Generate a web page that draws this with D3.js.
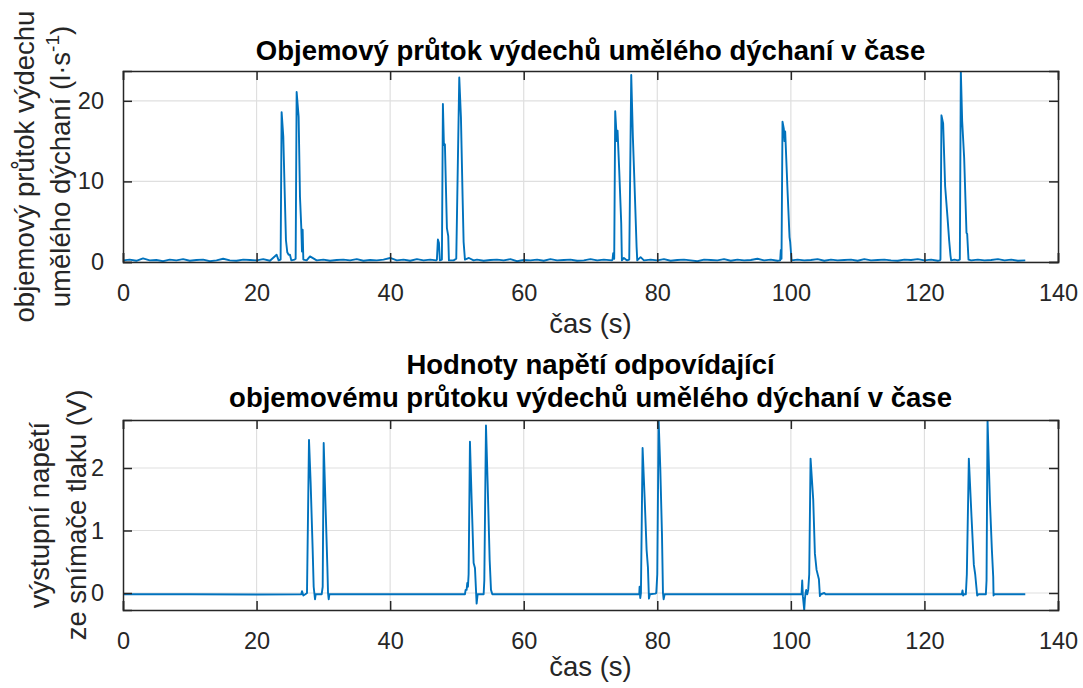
<!DOCTYPE html>
<html>
<head>
<meta charset="utf-8">
<script src="https://cdn.jsdelivr.net/npm/d3@7"></script>
<style>
  html, body { margin: 0; padding: 0; background: #fff; }
  svg { display: block; font-family: "Liberation Sans", Arial, Helvetica, sans-serif; }
</style>
</head>
<body>
<svg id="chart" width="1083" height="688"></svg>
<script>
// ---------------- DATA ----------------
const xTicks = [0, 20, 40, 60, 80, 100, 120, 140];
const flowTicks = [0, 10, 20];
const voltTicks = [0, 1, 2];

const flowTitle = "Objemový průtok výdechů umělého dýchaní v čase";
const voltTitle = ["Hodnoty napětí odpovídající", "objemovému průtoku výdechů umělého dýchaní v čase"];
const flowYLabel = ["objemový průtok výdechu", "umělého dýchaní (l·s"];
const voltYLabel = ["výstupní napětí", "ze snímače tlaku (V)"];
const xLabel = "čas (s)";

// flow (l/s) vs time (s)
const flowTime = [
  0,1,2,3,4,5,6,7,8,9,10,11,12,13,14,15,16,17,18,19,20,21,22,23,23.3,
  23.6,23.75,24.0,24.2,24.4,24.6,24.8,25.0,25.2,25.7,25.85,26.0,26.3,26.5,26.7,26.8,26.9,27.0,27.5,28.0,
  29,30,31,32,33,34,35,36,37,38,39,40,41,42,43,44,45,46,46.9,
  47.0,47.15,47.3,47.45,47.75,47.9,48.05,48.2,48.5,48.7,48.8,49.5,49.9,50.35,50.6,50.85,51.0,51.2,51.8,52.5,
  53,54,55,56,57,58,59,60,61,62,63,64,65,66,67,68,69,70,71,72,73.2,
  73.3,73.4,73.55,73.7,73.95,74.05,74.3,74.6,74.7,75.0,75.3,75.5,75.8,76.1,76.35,76.6,76.9,77.0,77.5,78.0,
  79,80,81,82,83,84,85,86,87,88,89,90,91,92,93,94,95,96,97,98,98.4,
  98.5,98.6,98.75,98.95,99.05,99.15,99.5,99.8,99.9,100.1,
  101,102,103,104,105,106,107,108,109,110,111,112,113,114,115,116,117,118,119,120,121,122,122.3,
  122.4,122.55,122.8,123.1,123.45,123.7,123.9,124.0,124.5,125.0,125.3,125.45,125.65,125.95,126.3,126.4,126.6,127.0,
  128,129,130,131,132,133,134,135.1
];
const flowValue = [
  0.2,0.3,0.15,0.45,0.2,0.25,0.1,0.3,0.2,0.35,0.15,0.25,0.3,0.1,0.2,0.4,0.2,0.15,0.3,0.25,0.2,0.35,0.15,0.9,0.2,
  0.3,18.6,15.6,9.0,2.7,1.2,0.9,0.9,0.2,0.3,0.4,21.1,18.0,8.1,4.2,1.3,4.0,0.3,0.2,0.7,
  0.2,0.3,0.15,0.25,0.3,0.2,0.35,0.15,0.25,0.2,0.3,0.5,0.2,0.3,0.15,0.35,0.2,0.3,0.2,
  0.3,2.8,2.4,0.2,0.3,19.6,14.5,14.6,4.2,3.2,0.2,0.2,0.4,22.9,18.0,8.0,2.5,0.3,0.5,0.2,
  0.3,0.15,0.25,0.3,0.2,0.35,0.1,0.25,0.2,0.3,0.15,0.35,0.2,0.25,0.3,0.15,0.2,0.35,0.2,0.3,0.2,
  0.3,1.1,0.4,18.7,15.0,16.3,11.4,4.8,0.2,0.5,0.3,0.2,0.3,23.2,15.4,9.4,1.9,0.2,0.6,0.2,
  0.3,0.2,0.35,0.15,0.25,0.3,0.2,0.1,0.3,0.25,0.2,0.35,0.15,0.3,0.2,0.25,0.4,0.2,0.3,0.15,0.2,
  1.5,0.4,17.4,16.5,15.0,16.2,8.9,3.1,2.5,0.2,
  0.3,0.2,0.25,0.35,0.15,0.3,0.2,0.25,0.3,0.15,0.35,0.2,0.25,0.3,0.2,0.15,0.3,0.25,0.35,0.2,0.3,0.15,0.2,
  0.3,18.2,17.2,9.4,5.6,2.7,0.8,0.2,0.3,0.2,0.3,23.7,17.5,12.9,3.6,3.5,0.3,0.2,
  0.3,0.2,0.25,0.35,0.2,0.3,0.15,0.2
];

// voltage (V) vs time (s)
const voltTime = [
  0,10,20,26.7,26.8,27.0,27.3,27.55,27.85,28.1,28.4,28.55,28.75,28.85,29.75,29.9,30.05,30.3,30.6,30.7,30.8,30.9,
  40,51.2,51.3,51.45,51.55,51.65,51.75,51.95,52.2,52.5,52.7,52.95,53.1,54.0,54.1,54.35,54.6,54.9,55.1,55.3,
  77.3,77.35,77.45,77.55,77.8,78.1,78.4,78.6,78.75,78.9,79.7,79.85,80.0,80.2,80.45,80.7,80.85,80.95,81.1,
  101.6,101.7,101.8,102.0,102.1,102.2,102.3,102.45,102.6,102.75,102.95,103.35,103.6,103.85,104.2,104.35,104.5,105.0,105.2,
  125.6,125.7,125.8,125.9,126.2,126.35,126.65,127.05,127.4,127.6,127.9,128.1,129.2,129.3,129.45,129.8,130.1,130.3,130.35,130.5,135.1
];
const voltValue = [
  -0.02,-0.02,-0.025,-0.02,0.03,-0.04,-0.02,0.0,2.45,1.75,0.69,0.1,-0.1,-0.02,-0.02,0.1,2.4,1.49,0.42,0.0,-0.1,-0.02,
  -0.02,-0.02,0.05,0.05,0.16,0.1,0.3,2.42,1.5,0.48,0.4,-0.17,-0.02,-0.02,0.2,2.68,1.75,0.53,0.05,-0.02,
  -0.02,0.1,-0.08,0.0,2.32,1.54,0.69,0.41,-0.09,-0.02,-0.01,0.0,0.3,2.77,2.0,0.95,0.0,-0.1,-0.02,
  -0.02,0.2,-0.05,-0.27,-0.1,0.0,0.05,-0.02,0.05,0.3,2.15,1.49,0.63,0.37,0.22,-0.05,-0.02,0.0,-0.02,
  -0.02,0.04,-0.04,-0.02,-0.02,0.3,2.15,1.22,0.45,0.3,-0.04,-0.02,-0.02,0.2,2.77,1.49,0.69,0.26,-0.04,-0.02,-0.02
];

// ---------------- DRAW ----------------
const svg = d3.select("#chart");
const lineColor = "#0072BD";
const axisColor = "#262626";
const gridColor = "#dfdfdf";
const tickFont = 23.5;
const labelFont = 27.5;
const titleFont = 27.5;
const L = 123, R = 1058;

function panel(cfg) {
  const x = d3.scaleLinear().domain([0, 140]).range([L, R]);
  const y = d3.scaleLinear().domain(cfg.yDomain).range([cfg.bottom, cfg.top]);
  const g = svg.append("g");
  const clipId = "clip" + cfg.id;
  svg.append("defs").append("clipPath").attr("id", clipId)
    .append("rect").attr("x", L).attr("y", cfg.top).attr("width", R - L).attr("height", cfg.bottom - cfg.top);

  // grid
  g.append("g").selectAll("line").data(xTicks.slice(1, -1)).join("line")
    .attr("x1", d => x(d)).attr("x2", d => x(d)).attr("y1", cfg.top).attr("y2", cfg.bottom)
    .attr("stroke", gridColor).attr("stroke-width", 1.2);
  g.append("g").selectAll("line").data(cfg.yTicks).join("line")
    .attr("x1", L).attr("x2", R).attr("y1", d => y(d)).attr("y2", d => y(d))
    .attr("stroke", gridColor).attr("stroke-width", 1.2);

  // data line
  const pts = cfg.t.map((t, i) => [t, cfg.v[i]]);
  g.append("path").datum(pts)
    .attr("clip-path", `url(#${clipId})`)
    .attr("fill", "none").attr("stroke", lineColor).attr("stroke-width", 1.9)
    .attr("stroke-linejoin", "round")
    .attr("d", d3.line().x(d => x(d[0])).y(d => y(d[1])));

  // axes (inward ticks on all four sides)
  const tl = 9;
  const axB = d3.axisBottom(x).tickValues(xTicks).tickSize(-tl).tickPadding(tl + 13).tickFormat(d3.format("d"));
  const axT = d3.axisTop(x).tickValues(xTicks).tickSize(-tl).tickFormat("");
  const axL = d3.axisLeft(y).tickValues(cfg.yTicks).tickSize(-tl).tickPadding(tl + 10).tickFormat(d3.format("d"));
  const axR = d3.axisRight(y).tickValues(cfg.yTicks).tickSize(-tl).tickFormat("");
  const gb = g.append("g").attr("transform", `translate(0,${cfg.bottom})`).call(axB);
  const gt = g.append("g").attr("transform", `translate(0,${cfg.top})`).call(axT);
  const gl = g.append("g").attr("transform", `translate(${L},0)`).call(axL);
  const gr = g.append("g").attr("transform", `translate(${R},0)`).call(axR);
  [gb, gt, gl, gr].forEach(a => {
    a.select(".domain").attr("stroke", axisColor).attr("stroke-width", 1.5);
    a.selectAll(".tick line").attr("stroke", axisColor).attr("stroke-width", 1.5);
    a.selectAll(".tick text").attr("fill", axisColor).attr("font-size", tickFont)
      .attr("font-family", "Liberation Sans, Arial, sans-serif");
  });

  // x label
  g.append("text").attr("x", (L + R) / 2).attr("y", cfg.xLabelY).attr("text-anchor", "middle")
    .attr("font-size", labelFont).attr("fill", axisColor).text(xLabel);

  // title
  cfg.title.forEach((s, i) => {
    g.append("text").attr("x", (L + R) / 2).attr("y", cfg.titleY[i]).attr("text-anchor", "middle")
      .attr("font-size", titleFont).attr("font-weight", "bold").attr("fill", "#000").text(s);
  });

  // y label (rotated, two lines)
  const yc = (cfg.top + cfg.bottom) / 2;
  cfg.yLabel.forEach((s, i) => {
    const t = g.append("text").attr("transform", `translate(${cfg.yLabelX[i]},${yc}) rotate(-90)`)
      .attr("text-anchor", "middle").attr("font-size", labelFont).attr("fill", axisColor);
    t.append("tspan").text(s);
    if (cfg.sup && i === 1) {
      t.append("tspan").attr("dy", -11).attr("font-size", 19).text("-1");
      t.append("tspan").attr("dy", 11).text(")");
    }
  });
}

panel({
  id: "a", top: 71, bottom: 262, yDomain: [0, 23.7], yTicks: flowTicks,
  t: flowTime, v: flowValue, title: [flowTitle], titleY: [60],
  xLabelY: 333, yLabel: flowYLabel, yLabelX: [34, 70], sup: true
});
panel({
  id: "b", top: 420, bottom: 610, yDomain: [-0.272, 2.768], yTicks: voltTicks,
  t: voltTime, v: voltValue, title: voltTitle, titleY: [374, 407],
  xLabelY: 676, yLabel: voltYLabel, yLabelX: [49, 86], sup: false
});
</script>
</body>
</html>
